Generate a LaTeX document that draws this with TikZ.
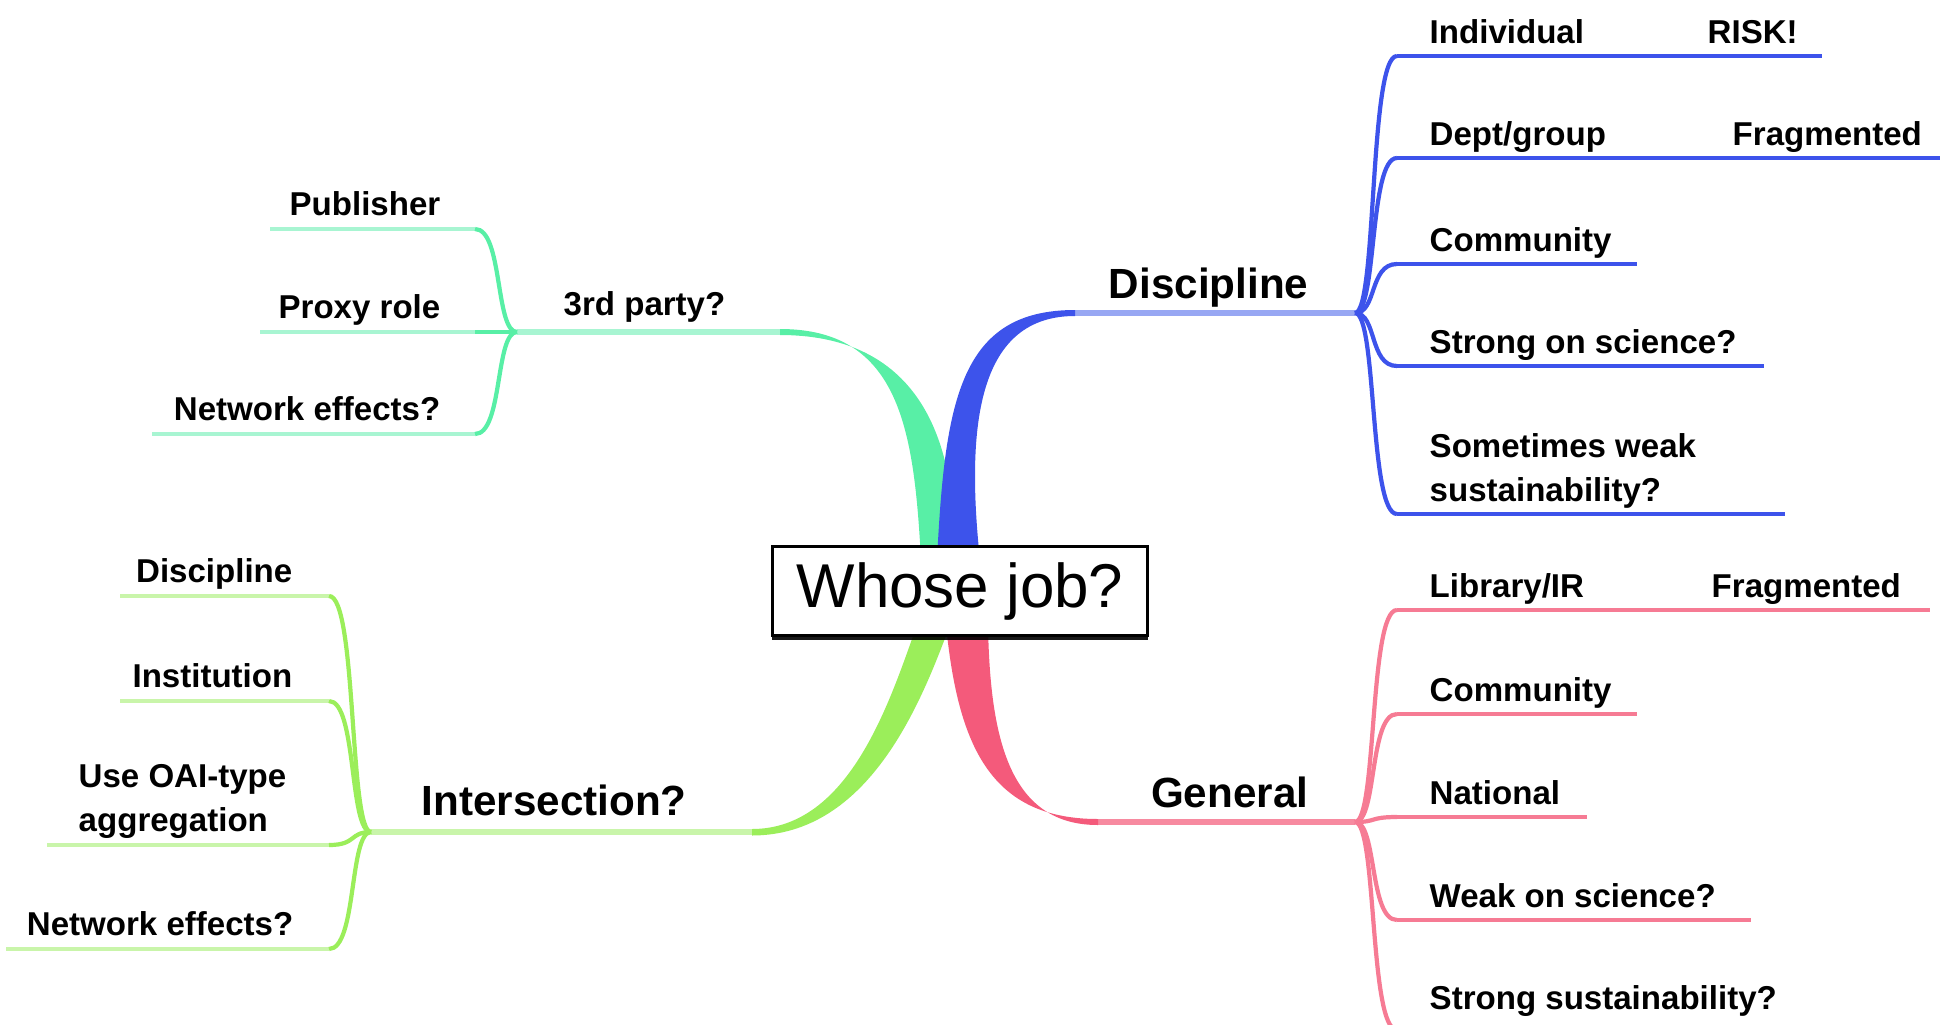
\documentclass[tikz,border=0pt]{standalone}
\usepackage{fontspec}
\setmainfont{Liberation Sans}
\usepackage{tikz}
\usepackage{xcolor}
\usetikzlibrary{shadows}
\definecolor{tealdk}{HTML}{58EFA6}
\definecolor{teallt}{HTML}{A8F5D2}
\definecolor{bluedk}{HTML}{3D53EB}
\definecolor{bluelt}{HTML}{98A7F3}
\definecolor{greendk}{HTML}{9BEE5A}
\definecolor{greenlt}{HTML}{C9F5AA}
\definecolor{pinkdk}{HTML}{F45A7B}
\definecolor{pinklt}{HTML}{F78AA0}
\definecolor{pinkmd}{HTML}{F67B94}
\tikzset{
  rootbox/.style={draw=black,fill=white,line width=1pt,
                  minimum width=3.75cm,minimum height=0.89cm,inner sep=0pt,
                  font=\fontsize{17.6}{20}\selectfont,
                  drop shadow={shadow xshift=0pt,shadow yshift=-1.2pt,
                               fill=black,opacity=0.9}},
  branchlbl/.style={inner sep=0pt,font=\fontsize{12}{14}\selectfont\bfseries},
  leaflbl/.style={inner sep=0pt,font=\fontsize{9.4}{12.4}\selectfont\bfseries},
  stemln/.style={line width=1.7pt},
  leafln/.style={line width=1.4pt},
  forkln/.style={line width=1.2pt}
}

\begin{document}
\begin{tikzpicture}[x=0.01cm,y=-0.01cm]
  \useasboundingbox (0,0) rectangle (1940,1024);
  \clip (0,0) rectangle (1940,1024);

  \coordinate (tJ) at (517,332);
  \coordinate (tK) at (780,332);
  \coordinate (dJ) at (1355,313);
  \coordinate (dK) at (1075,313);
  \coordinate (iJ) at (371,832);
  \coordinate (iK) at (752,832);
  \coordinate (gJ) at (1355,822);
  \coordinate (gK) at (1098,822);

  \draw[stemln,teallt] (tJ) -- (tK);
  \draw[stemln,bluelt] (dK) -- (dJ);
  \draw[stemln,greenlt] (iJ) -- (iK);
  \draw[stemln,pinklt] (gK) -- (gJ);

  \fill[tealdk] (921,560) .. controls (914,430) and (900,329) .. (780,329)
    -- (780,335) .. controls (905,335) and (958,420) .. (954,560) -- cycle;
  \fill[bluedk] (937,560) .. controls (945,400) and (960,310) .. (1075,310)
    -- (1075,316) .. controls (980,316) and (965,420) .. (980,560) -- cycle;
  \fill[greendk] (917,625) .. controls (890,700) and (850,829) .. (752,829)
    -- (752,835.5) .. controls (870,835.5) and (922,700) .. (950,625) -- cycle;
  \fill[pinkdk] (946,625) .. controls (958,745) and (990,819) .. (1098,819)
    -- (1098,825) .. controls (1010,825) and (990,740) .. (988,625) -- cycle;

  \node[rootbox] (root) at (960,591) {Whose job?};

  \foreach \n/\y/\e in {1/229/270,2/332/260,3/434/152}{
    \coordinate (t\n) at (475,\y);
    \coordinate (te\n) at (\e,\y);
    \draw[leafln,teallt] (t\n) -- (te\n);
    \draw[forkln,tealdk] (tJ) .. controls +(-22,0) and +(28,0) .. (t\n);
  }
  \foreach \n/\y/\e in {1/56/1822,2/158/1950,3/264/1637,4/366/1764,5/514/1785}{
    \coordinate (d\n) at (1397,\y);
    \coordinate (de\n) at (\e,\y);
    \draw[leafln,bluedk] (d\n) -- (de\n);
    \draw[forkln,bluedk] (dJ) .. controls +(22,0) and +(-28,0) .. (d\n);
  }
  \foreach \n/\y/\e in {1/596/120,2/701/120,3/845/47,4/949/6}{
    \coordinate (i\n) at (329,\y);
    \coordinate (ie\n) at (\e,\y);
    \draw[leafln,greenlt] (i\n) -- (ie\n);
    \draw[forkln,greendk] (iJ) .. controls +(-22,0) and +(28,0) .. (i\n);
  }
  \foreach \n/\y/\e in {1/610/1930,2/714/1637,3/817/1587,4/920/1751,5/1030/1800}{
    \coordinate (g\n) at (1397,\y);
    \coordinate (ge\n) at (\e,\y);
    \draw[leafln,pinkmd] (g\n) -- (ge\n);
    \draw[forkln,pinkmd] (gJ) .. controls +(22,0) and +(-28,0) .. (g\n);
  }

  \node[leaflbl,anchor=base west] (tlbl) at (563,315) {3rd party?};
  \node[branchlbl,anchor=base east] (dlbl) at (1309,298) {Discipline};
  \node[branchlbl,anchor=base west] (ilbl) at (421,815) {Intersection?};
  \node[branchlbl,anchor=base east] (glbl) at (1309,807) {General};

  \node[leaflbl,anchor=base east] (tpub) at (441,215) {Publisher};
  \node[leaflbl,anchor=base east] (tpro) at (441,318) {Proxy role};
  \node[leaflbl,anchor=base east] (tnet) at (441,420) {Network effects?};

  \node[leaflbl,anchor=base west] (dind) at (1429,43) {Individual};
  \node[leaflbl,anchor=base west] (drisk) at (1707,43) {RISK!};
  \node[leaflbl,anchor=base west] (ddept) at (1429,145) {Dept/group};
  \node[leaflbl,anchor=base west] (dfrag) at (1732,145) {Fragmented};
  \node[leaflbl,anchor=base west] (dcom) at (1429,251) {Community};
  \node[leaflbl,anchor=base west] (dsci) at (1429,353) {Strong on science?};
  \node[leaflbl,anchor=north west,align=left] (dsus) at (1429,433)
    {Sometimes weak\\sustainability?};

  \node[leaflbl,anchor=base east] (idis) at (293,582) {Discipline};
  \node[leaflbl,anchor=base east] (iins) at (293,687) {Institution};
  \node[leaflbl,anchor=north east,align=left] (ioai) at (287,764)
    {Use OAI-type\\aggregation};
  \node[leaflbl,anchor=base east] (inet) at (294,935) {Network effects?};

  \node[leaflbl,anchor=base west] (glib) at (1429,597) {Library/IR};
  \node[leaflbl,anchor=base west] (gfrag) at (1711,597) {Fragmented};
  \node[leaflbl,anchor=base west] (gcom) at (1429,701) {Community};
  \node[leaflbl,anchor=base west] (gnat) at (1429,804) {National};
  \node[leaflbl,anchor=base west] (gwea) at (1429,907) {Weak on science?};
  \node[leaflbl,anchor=base west] (gsus) at (1429,1009) {Strong sustainability?};
\end{tikzpicture}
\end{document}
